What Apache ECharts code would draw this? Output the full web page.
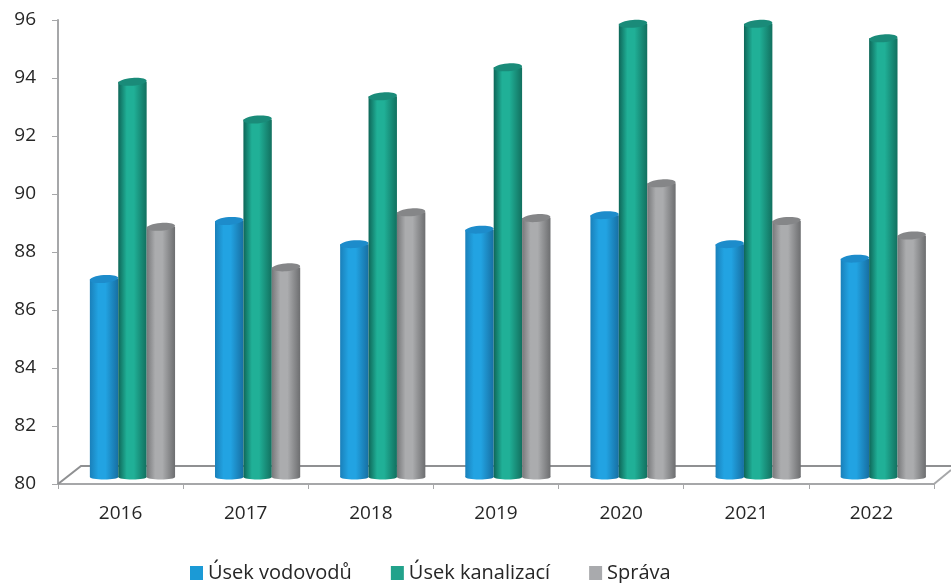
<!DOCTYPE html>
<html><head><meta charset="utf-8">
<style>html,body{margin:0;padding:0;background:#fff}#c{width:951px;height:583px}</style>
<script src="https://cdn.jsdelivr.net/npm/echarts@6/dist/echarts.min.js"></script>
</head><body><div id="c"></div>
<script>
const years = ['2016','2017','2018','2019','2020','2021','2022'];
const vodovody = [87.0,89.0,88.2,88.7,89.2,88.2,87.7];
const kanalizace = [93.8,92.5,93.3,94.3,95.8,95.8,95.3];
const sprava = [88.8,87.4,89.3,89.1,90.3,89.0,88.5];
const names = ['Úsek vodovodů','Úsek kanalizací','Správa'];
const FONT = '"Open Sans", sans-serif';

const looks = [
  {flat:'#1b9ad6', edgeL:'#1a80ba', mid:'#22a3e2', edgeR:'#176fa3', top:'#1d8ccb'},
  {flat:'#22a28b', edgeL:'#0e6658', mid:'#20b097', edgeR:'#12705f', top:'#1a8b79'},
  {flat:'#a9aaad', edgeL:'#77787a', mid:'#abacae', edgeR:'#6d6e70', top:'#858688'}
];
function cylinder(k){
  return function(params, api){
    const L = looks[k];
    const i = api.value(0), v = api.value(1);
    const band = api.size([1,0])[0];
    const barW = 28.4;
    const top = api.coord([i, v]);
    const base = api.coord([i, 80]);
    const cx = top[0] + band*0.095 + (k-1)*barW;
    const yTop = top[1] - 2, yBot = base[1] - 7;
    const grad = new echarts.graphic.LinearGradient(0,0,1,0,[
      {offset:0,color:L.edgeL},{offset:.3,color:L.mid},{offset:.55,color:L.mid},{offset:1,color:L.edgeR}]);
    return {type:'group', children:[
      {type:'ellipse', shape:{cx:cx, cy:yBot, rx:barW/2, ry:2.5}, style:{fill:grad}},
      {type:'rect', shape:{x:cx-barW/2, y:yTop, width:barW, height:yBot-yTop}, style:{fill:grad}},
      {type:'ellipse', x:cx, y:yTop, rotation:0.08, shape:{cx:0, cy:0, rx:barW/2, ry:3.9}, style:{fill:L.top}}
    ]};
  };
}
function series(k, vals){
  return {name:names[k], type:'custom', coordinateSystem:'cartesian2d', renderItem:cylinder(k),
    itemStyle:{color:looks[k].flat}, encode:{x:0,y:1}, clip:false, silent:true, z:3+k,
    data:vals.map((v,i)=>[i,v])};
}
const axisGray = '#a6a7a9';
const chart = echarts.init(document.getElementById('c'), null, {renderer:'canvas'});
chart.setOption({
  animation:false,
  backgroundColor:'#fff',
  grid:{left:58, right:17, top:20, bottom:99},
  graphic:[
    {type:'polyline', z:1, shape:{points:[[58,484],[81,466],[951,466]]}, style:{fill:'none', stroke:'#8f9092', lineWidth:2}},
    {type:'line', z:1, shape:{x1:934,y1:484,x2:951,y2:470}, style:{stroke:'#a6a7a9', lineWidth:2}}
  ],
  legend:{left:185, top:558, itemWidth:13, itemHeight:14, itemGap:39, icon:'rect',
    textStyle:{fontFamily:FONT, fontSize:20, color:'#262626', padding:[0,0,0,0]},
    data:names},
  xAxis:{type:'category', data:years, boundaryGap:true,
    axisLine:{lineStyle:{color:axisGray,width:2}},
    axisTick:{show:true,length:5,lineStyle:{color:axisGray,width:1},alignWithLabel:false},
    axisLabel:{fontFamily:FONT,fontSize:19,color:'#262626',margin:20}, splitLine:{show:false}},
  yAxis:{type:'value', min:80, max:96, interval:2,
    axisLine:{show:true,lineStyle:{color:axisGray,width:2}},
    axisTick:{show:true,length:6,lineStyle:{color:axisGray,width:1}},
    axisLabel:{fontFamily:FONT,fontSize:19,color:'#262626',margin:22,padding:[3,0,0,0]}, splitLine:{show:false}},
  series:[series(0,vodovody),series(1,kanalizace),series(2,sprava)]
});
</script></body></html>
